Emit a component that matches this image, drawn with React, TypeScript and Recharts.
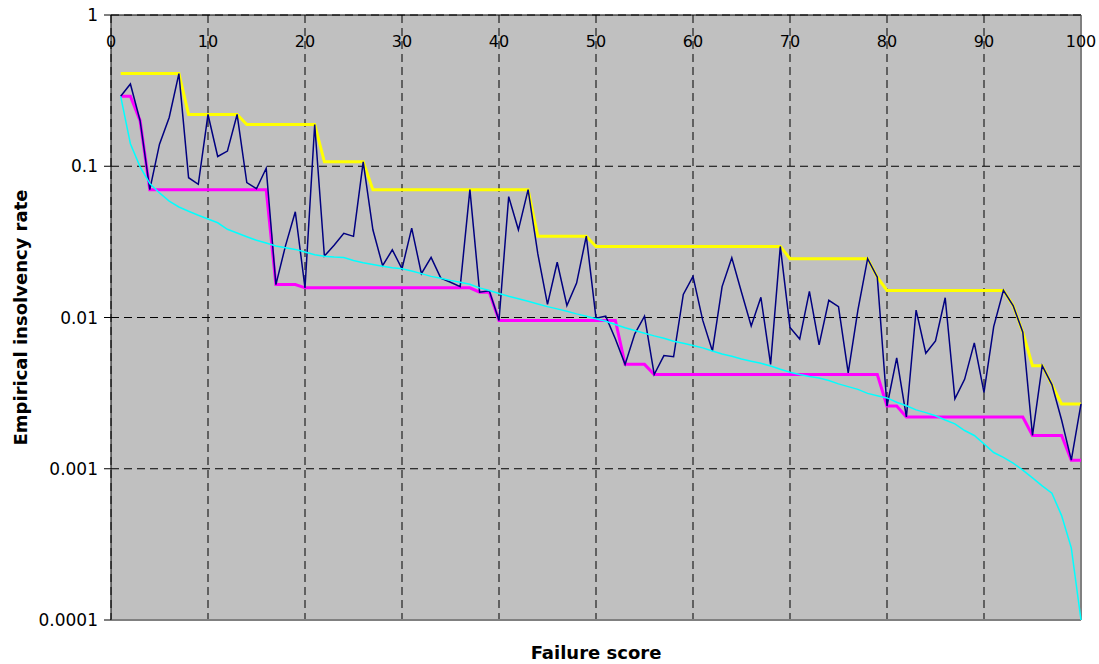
import { LineChart, Line, XAxis, YAxis, CartesianGrid, ReferenceLine, Label } from "recharts";

// Empirical insolvency rate per failure score (1..100)
const observedRate = [
  0.29, 0.35, 0.2, 0.07, 0.14, 0.21, 0.41, 0.084, 0.076, 0.22,
  0.116, 0.126, 0.22, 0.078, 0.071, 0.097, 0.0165, 0.03, 0.05, 0.0157,
  0.189, 0.0255, 0.03, 0.036, 0.0344, 0.107, 0.038, 0.022, 0.028, 0.021,
  0.039, 0.0195, 0.025, 0.0182, 0.0171, 0.016, 0.07, 0.0147, 0.015, 0.00955,
  0.063, 0.038, 0.07, 0.0264, 0.0122, 0.0232, 0.012, 0.0169, 0.0345, 0.0099,
  0.0102, 0.0072, 0.0049, 0.0078, 0.0102, 0.0042, 0.0056, 0.0055, 0.0142, 0.0187,
  0.0096, 0.006, 0.016, 0.0248, 0.0147, 0.0088, 0.0136, 0.0049, 0.0295, 0.0086,
  0.0072, 0.0149, 0.0066, 0.013, 0.0118, 0.0043, 0.0112, 0.0245, 0.0185, 0.0026,
  0.0054, 0.0022, 0.0112, 0.0058, 0.007, 0.0135, 0.0029, 0.0039, 0.0068, 0.0032,
  0.0087, 0.0151, 0.012, 0.008, 0.00166, 0.0048, 0.0036, 0.0021, 0.00114, 0.00268,
];

// yellow step line (upper envelope)
const upperEnvelope = [
  0.41, 0.41, 0.41, 0.41, 0.41, 0.41, 0.41, 0.22, 0.22, 0.22,
  0.22, 0.22, 0.22, 0.189, 0.189, 0.189, 0.189, 0.189, 0.189, 0.189,
  0.189, 0.107, 0.107, 0.107, 0.107, 0.107, 0.07, 0.07, 0.07, 0.07,
  0.07, 0.07, 0.07, 0.07, 0.07, 0.07, 0.07, 0.07, 0.07, 0.07,
  0.07, 0.07, 0.07, 0.0345, 0.0345, 0.0345, 0.0345, 0.0345, 0.0345, 0.0295,
  0.0295, 0.0295, 0.0295, 0.0295, 0.0295, 0.0295, 0.0295, 0.0295, 0.0295, 0.0295,
  0.0295, 0.0295, 0.0295, 0.0295, 0.0295, 0.0295, 0.0295, 0.0295, 0.0295, 0.0245,
  0.0245, 0.0245, 0.0245, 0.0245, 0.0245, 0.0245, 0.0245, 0.0245, 0.0185, 0.0151,
  0.0151, 0.0151, 0.0151, 0.0151, 0.0151, 0.0151, 0.0151, 0.0151, 0.0151, 0.0151,
  0.0151, 0.0151, 0.012, 0.008, 0.0048, 0.0048, 0.0036, 0.00268, 0.00268, 0.00268,
];

// magenta step line (lower envelope)
const lowerEnvelope = [
  0.29, 0.29, 0.2, 0.07, 0.07, 0.07, 0.07, 0.07, 0.07, 0.07,
  0.07, 0.07, 0.07, 0.07, 0.07, 0.07, 0.0165, 0.0165, 0.0165, 0.0157,
  0.0157, 0.0157, 0.0157, 0.0157, 0.0157, 0.0157, 0.0157, 0.0157, 0.0157, 0.0157,
  0.0157, 0.0157, 0.0157, 0.0157, 0.0157, 0.0157, 0.0157, 0.0147, 0.0147, 0.00955,
  0.00955, 0.00955, 0.00955, 0.00955, 0.00955, 0.00955, 0.00955, 0.00955, 0.00955, 0.00955,
  0.00955, 0.00955, 0.0049, 0.0049, 0.0049, 0.0042, 0.0042, 0.0042, 0.0042, 0.0042,
  0.0042, 0.0042, 0.0042, 0.0042, 0.0042, 0.0042, 0.0042, 0.0042, 0.0042, 0.0042,
  0.0042, 0.0042, 0.0042, 0.0042, 0.0042, 0.0042, 0.0042, 0.0042, 0.0042, 0.0026,
  0.0026, 0.0022, 0.0022, 0.0022, 0.0022, 0.0022, 0.0022, 0.0022, 0.0022, 0.0022,
  0.0022, 0.0022, 0.0022, 0.0022, 0.00166, 0.00166, 0.00166, 0.00166, 0.00114, 0.00114,
];

// cyan curve (model rate)
const modelRate = [
  0.29, 0.141, 0.099, 0.077, 0.0666, 0.0589, 0.0538, 0.0504, 0.0474, 0.0448,
  0.0423, 0.0383, 0.0362, 0.0342, 0.0324, 0.0311, 0.0297, 0.0289, 0.0282, 0.0271,
  0.026, 0.0254, 0.0251, 0.0249, 0.0238, 0.023, 0.0224, 0.0218, 0.0213, 0.021,
  0.0203, 0.0195, 0.0187, 0.0182, 0.0176, 0.0171, 0.0166, 0.0157, 0.0151, 0.0144,
  0.0138, 0.0133, 0.0128, 0.0123, 0.0118, 0.0114, 0.011, 0.01057, 0.0102, 0.0098,
  0.00945, 0.009, 0.00855, 0.0082, 0.00787, 0.00756, 0.0073, 0.00697, 0.00676, 0.00653,
  0.0063, 0.006, 0.00574, 0.00554, 0.00532, 0.00514, 0.00498, 0.00478, 0.00455, 0.00435,
  0.0042, 0.00407, 0.00398, 0.00383, 0.00364, 0.00349, 0.00335, 0.00315, 0.00304, 0.00294,
  0.00275, 0.00261, 0.00245, 0.00235, 0.00224, 0.0021, 0.00198, 0.00179, 0.00166, 0.00146,
  0.00128, 0.00119, 0.00109, 0.00098, 0.00087, 0.00077, 0.00069, 0.00049, 0.0003, 0.0001,
];

const xTicks = [0, 10, 20, 30, 40, 50, 60, 70, 80, 90, 100];
const yTicks = [0.0001, 0.001, 0.01, 0.1, 1];
const yTickLabels = ["0.0001", "0.001", "0.01", "0.1", "1"];

const rows = observedRate.map((v, i) => ({
  score: i + 1,
  observed: v,
  upper: upperEnvelope[i],
  lower: lowerEnvelope[i],
  model: modelRate[i],
}));

const FONT = "'DejaVu Sans', Verdana, sans-serif";

// x tick labels sit just under the top axis line, inside the plot
const TopTick = ({ x, payload }: any) => (
  <text x={x} y={47} textAnchor="middle" fill="#000" fontSize={16} fontFamily={FONT}>
    {payload.value}
  </text>
);

export default function App() {
  return (
    <div style={{ position: "absolute", left: 0, top: 0 }}>
      <LineChart
        width={1099}
        height={664}
        data={rows}
        margin={{ top: 14, right: 18, bottom: 0, left: 0 }}
      >
        <CartesianGrid
          xAxisId="top"
          stroke="#000"
          strokeDasharray="8 5"
          fill="#C0C0C0"
          fillOpacity={1}
        />
        <XAxis
          xAxisId="top"
          orientation="top"
          dataKey="score"
          type="number"
          domain={[0, 100]}
          ticks={xTicks}
          interval={0}
          height={1}
          tickLine={false}
          axisLine={{ stroke: "#000" }}
          tick={<TopTick />}
        />
        <XAxis
          xAxisId="bottom"
          orientation="bottom"
          dataKey="score"
          type="number"
          domain={[0, 100]}
          height={44}
          tick={false}
          tickLine={false}
          axisLine={false}
        >
          <Label
            value="Failure score"
            position="center"
            dy={11}
            style={{ fontFamily: FONT, fontSize: 18, fontWeight: "bold", fill: "#000" }}
          />
        </XAxis>
        <YAxis
          scale="log"
          type="number"
          domain={[0.0001, 1]}
          allowDataOverflow
          ticks={yTicks}
          interval={0}
          width={111}
          tickSize={7}
          tickMargin={6}
          tickLine={{ stroke: "#000" }}
          axisLine={{ stroke: "#000" }}
          tickFormatter={(v: number) => yTickLabels[yTicks.indexOf(v)] ?? String(v)}
          tick={{ fill: "#000", fontSize: 17, fontFamily: FONT }}
        >
          <Label
            value="Empirical insolvency rate"
            angle={-90}
            position="center"
            dx={-35}
            style={{ fontFamily: FONT, fontSize: 18, fontWeight: "bold", fill: "#000", textAnchor: "middle" }}
          />
        </YAxis>
        <ReferenceLine xAxisId="top" x={100} stroke="#808080" strokeWidth={2} />
        <ReferenceLine xAxisId="top" y={0.0001} stroke="#808080" strokeWidth={2} />
        <Line xAxisId="top" type="linear" dataKey="upper" stroke="#FFFF00" strokeWidth={3} dot={false} isAnimationActive={false} />
        <Line xAxisId="top" type="linear" dataKey="lower" stroke="#FF00FF" strokeWidth={3} dot={false} isAnimationActive={false} />
        <Line xAxisId="top" type="linear" dataKey="observed" stroke="#000080" strokeWidth={1.5} dot={false} isAnimationActive={false} />
        <Line xAxisId="top" type="linear" dataKey="model" stroke="#00FFFF" strokeWidth={1.5} dot={false} isAnimationActive={false} />
      </LineChart>
    </div>
  );
}
